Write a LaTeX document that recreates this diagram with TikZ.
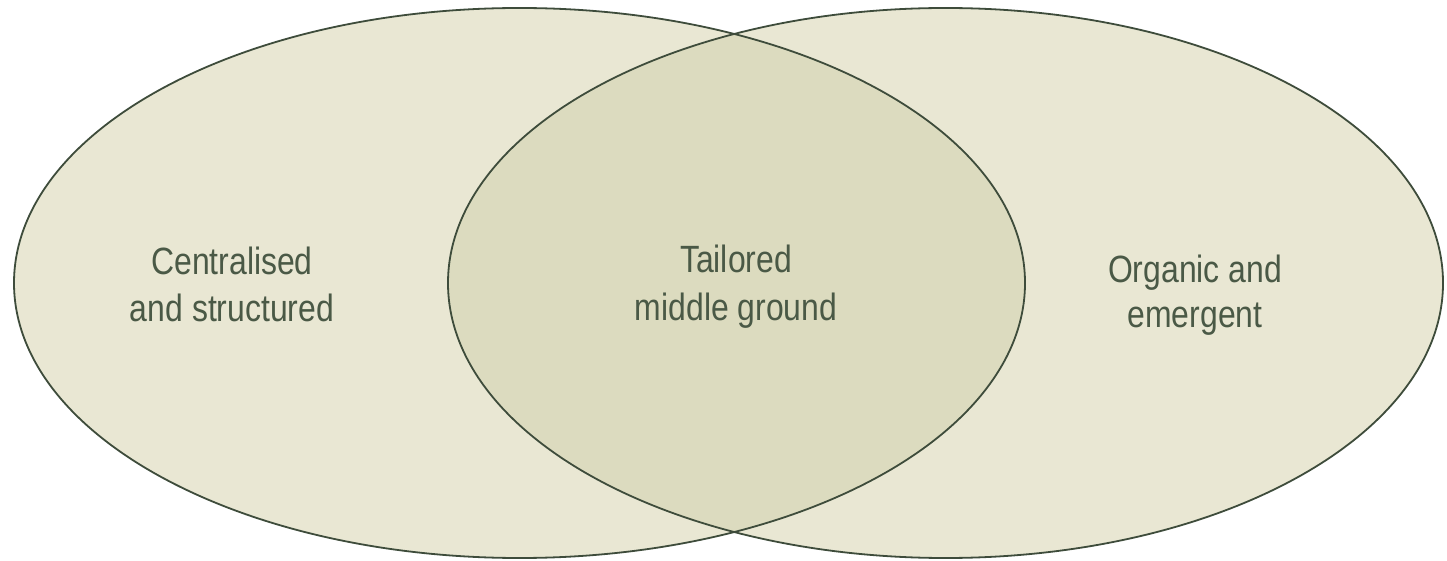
\documentclass[tikz,border=0pt]{standalone}
\usepackage{fontspec}
\setmainfont{Liberation Sans}[FakeStretch=0.84]
\definecolor{fillc}{HTML}{E9E7D3}
\definecolor{overc}{HTML}{DCDBBF}
\definecolor{linec}{HTML}{3E4C3B}
\definecolor{textc}{HTML}{4A5946}
\begin{document}
\begin{tikzpicture}[x=1pt,y=1pt,
  lbl/.style={anchor=base,inner sep=0pt,text=textc,font=\fontsize{38}{46}\selectfont},
  outline/.style={draw=linec,line width=1.8pt}]
\useasboundingbox (0,0) rectangle (1447,560);
\fill[white] (0,0) rectangle (1447,560);
\coordinate (L) at (519.5,277);
\coordinate (R) at (945.5,277);
\fill[fillc] (L) ellipse [x radius=505.5, y radius=275];
\fill[fillc] (R) ellipse [x radius=497.5, y radius=275];
\begin{scope}
  \clip (L) ellipse [x radius=505.5, y radius=275];
  \fill[overc] (R) ellipse [x radius=497.5, y radius=275];
\end{scope}
\draw[outline] (L) ellipse [x radius=505.5, y radius=275];
\draw[outline] (R) ellipse [x radius=497.5, y radius=275];
\node[lbl] (c1) at (232,285) {Centralised};
\node[lbl] (c2) at (232,239) {and structured};
\node[lbl] (m1) at (736,287) {Tailored};
\node[lbl] (m2) at (736,240) {middle ground};
\node[lbl] (o1) at (1195,277) {Organic and};
\node[lbl] (o2) at (1195,233) {emergent};
\end{tikzpicture}
\end{document}
